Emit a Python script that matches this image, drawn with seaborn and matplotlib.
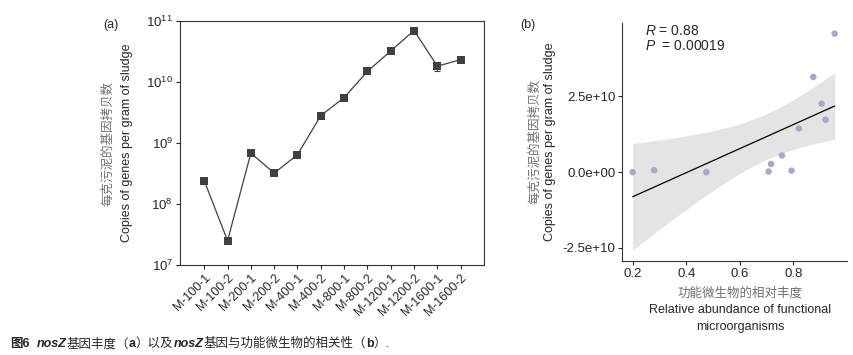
import numpy as np
import pandas as pd
import matplotlib
matplotlib.use("Agg")
import matplotlib.pyplot as plt
import seaborn as sns

# panel (a): nosZ copies per sample
samples = ["M-100-1", "M-100-2", "M-200-1", "M-200-2", "M-400-1", "M-400-2",
           "M-800-1", "M-800-2", "M-1200-1", "M-1200-2", "M-1600-1", "M-1600-2"]
copies = [2.4e8, 2.5e7, 6.8e8, 3.2e8, 6.4e8, 2.8e9,
          5.5e9, 1.48e10, 3.2e10, 6.9e10, 1.8e10, 2.3e10]
copies_err = [0, 0, 0, 0, 0, 0, 0, 0, 0, 0, 3.0e9, 0]

# panel (b): correlation with functional microorganisms
abundance = [0.20, 0.28, 0.475, 0.708, 0.717, 0.758, 0.794, 0.821, 0.875, 0.906, 0.921, 0.955]
gene_copies = [0.0, 6.6e8, 0.0, 2.0e8, 2.7e9, 5.5e9, 5.0e8, 1.44e10, 3.14e10, 2.26e10, 1.73e10, 4.57e10]
r_text = "0.88"
p_text = "0.00019"

sns.set_theme(style="ticks")
plt.rcParams["font.family"] = ["Liberation Sans", "Noto Sans CJK SC"]
plt.rcParams["mathtext.fontset"] = "custom"
plt.rcParams["mathtext.rm"] = "Liberation Sans"
plt.rcParams["mathtext.it"] = "Liberation Sans:italic"

W, H = 854, 355
fig = plt.figure(figsize=(W / 100, H / 100), dpi=100)


def px_axes(x0, y0, x1, y1):
    return fig.add_axes([x0 / W, 1 - y1 / H, (x1 - x0) / W, (y1 - y0) / H])


# ---------- (a) ----------
ax1 = px_axes(180, 20.7, 484, 265)
df_a = pd.DataFrame({"sample": samples, "copies": copies, "err": copies_err, "pos": range(len(samples))})
sns.lineplot(data=df_a, x="pos", y="copies", ax=ax1, color="#404040", lw=0.9,
             marker="s", markersize=6, markeredgewidth=0, sort=False)
ax1.errorbar(df_a["pos"], df_a["copies"], yerr=df_a["err"], fmt="none",
             ecolor="#404040", elinewidth=0.8, capsize=2.5, capthick=0.8)
ax1.set_yscale("log")
ax1.set_ylim(1e7, 1e11)
ax1.set_xlim(-1.04, 12.0)
ax1.set_yticks([1e7, 1e8, 1e9, 1e10, 1e11])
ax1.set_yticklabels([r"$10^{7}$", r"$10^{8}$", r"$10^{9}$", r"$10^{10}$", r"$10^{11}$"], fontsize=9.5)
ax1.minorticks_off()
ax1.set_xticks(df_a["pos"])
ax1.set_xticklabels(samples, rotation=45, ha="right", rotation_mode="anchor", fontsize=9)
ax1.set_xlabel("")
ax1.set_ylabel("")
for s in ax1.spines.values():
    s.set_linewidth(0.8)
    s.set_color("#333333")
ax1.tick_params(length=3, width=0.8, pad=2)

fig.text(103 / W, 1 - 25 / H, "(a)", fontsize=9, va="center")
fig.text(108 / W, 1 - 143 / H, "每克污泥的基因拷贝数", rotation=90, fontsize=9,
         color="#707070", ha="center", va="center", family=["Noto Sans CJK SC"])
fig.text(127 / W, 1 - 143 / H, "Copies of genes per gram of sludge", rotation=90,
         fontsize=9, ha="center", va="center")

# ---------- (b) ----------
ax2 = px_axes(622.3, 23, 846.7, 261)
df_b = pd.DataFrame({"abundance": abundance, "copies": gene_copies})

# analytic 95% confidence band of the OLS fit (like ggplot geom_smooth)
xv = df_b["abundance"].to_numpy()
yv = df_b["copies"].to_numpy()
n = len(xv)
slope, intercept = np.polyfit(xv, yv, 1)
resid = yv - (slope * xv + intercept)
s_err = np.sqrt(np.sum(resid ** 2) / (n - 2))
grid = np.linspace(xv.min(), xv.max(), 100)
fit = slope * grid + intercept
t_crit = 2.228  # t(0.975, df=10)
half = t_crit * s_err * np.sqrt(1 / n + (grid - xv.mean()) ** 2 / np.sum((xv - xv.mean()) ** 2))
ax2.fill_between(grid, fit - half, fit + half, color="#e4e4e4", lw=0, zorder=0)

sns.regplot(data=df_b, x="abundance", y="copies", ax=ax2, scatter=False, ci=None,
            color="black", line_kws={"lw": 0.9})
sns.scatterplot(data=df_b, x="abundance", y="copies", ax=ax2, color="#aaa7c9",
                s=22, edgecolor="none", zorder=3)
ax2.set_xlim(0.161, 1.0)
ax2.set_ylim(-2.93e10, 4.92e10)
ax2.set_xticks([0.2, 0.4, 0.6, 0.8])
ax2.set_xticklabels(["0.2", "0.4", "0.6", "0.8"], fontsize=9.5)
ax2.set_yticks([-2.5e10, 0, 2.5e10])
ax2.set_yticklabels(["-2.5e+10", "0.0e+00", "2.5e+10"], fontsize=9.5)
ax2.set_xlabel("")
ax2.set_ylabel("")
sns.despine(ax=ax2)
for s in ("left", "bottom"):
    ax2.spines[s].set_linewidth(0.8)
    ax2.spines[s].set_color("#333333")
ax2.tick_params(length=3, width=0.8, pad=2)
ax2.text(0.245, 4.65e10, r"$\mathit{R}$ = " + r_text, fontsize=10, va="center")
ax2.text(0.245, 4.15e10, r"$\mathit{P}$  = " + p_text, fontsize=10, va="center")

fig.text(520 / W, 1 - 25 / H, "(b)", fontsize=9, va="center")
fig.text(535 / W, 1 - 142 / H, "每克污泥的基因拷贝数", rotation=90, fontsize=9,
         color="#707070", ha="center", va="center", family=["Noto Sans CJK SC"])
fig.text(550 / W, 1 - 142 / H, "Copies of genes per gram of sludge", rotation=90,
         fontsize=9, ha="center", va="center")
fig.text(740 / W, 1 - 293 / H, "功能微生物的相对丰度", fontsize=9, color="#707070",
         ha="center", va="center", family=["Noto Sans CJK SC"])
fig.text(740 / W, 1 - 310 / H, "Relative abundance of functional", fontsize=9,
         ha="center", va="center")
fig.text(740 / W, 1 - 327 / H, "microorganisms", fontsize=9, ha="center", va="center")

# ---------- caption ----------
fig.canvas.draw()
renderer = fig.canvas.get_renderer()
pieces = [("图6", "bold", "normal"), ("  ", "normal", "normal"), ("nosZ", "bold", "italic"),
          ("基因丰度（", "normal", "normal"), ("a", "bold", "normal"), ("）以及", "normal", "normal"),
          ("nosZ", "bold", "italic"), ("基因与功能微生物的相关性（", "normal", "normal"),
          ("b", "bold", "normal"), ("）.", "normal", "normal")]
x = 10
for txt, wt, st in pieces:
    t = fig.text(x / W, 1 - 344 / H, txt, fontsize=9, weight=wt, style=st, va="center",
                 family=["Liberation Sans", "Noto Sans CJK SC"])
    x += t.get_window_extent(renderer).width

fig.savefig("out.png", dpi=100)
